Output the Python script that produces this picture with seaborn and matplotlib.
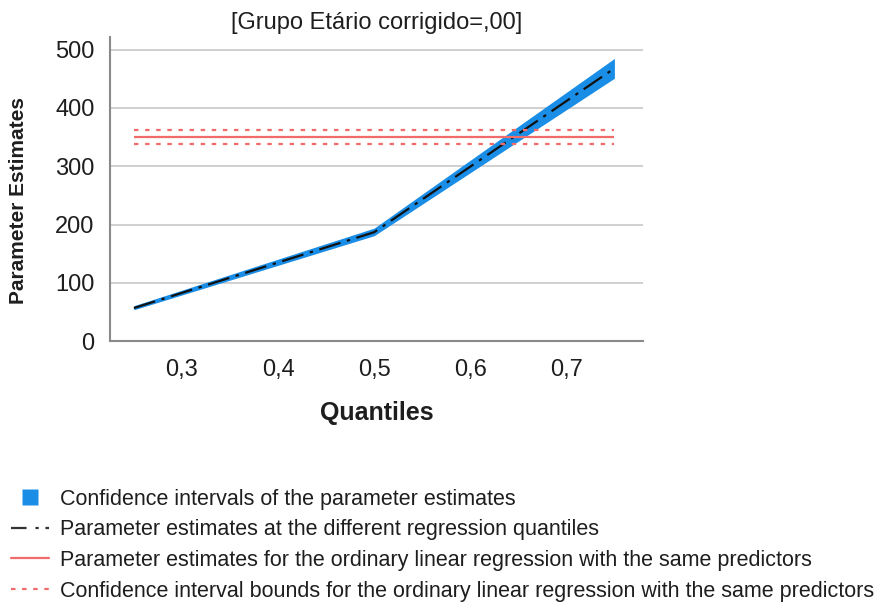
import matplotlib
matplotlib.use("Agg")
import matplotlib.pyplot as plt
from matplotlib.lines import Line2D
import numpy as np
import pandas as pd
import seaborn as sns

# Quantile regression estimates
quantiles = [0.25, 0.50, 0.75]
estimates = [57, 187, 468]
ci_lower = [54, 181, 451]
ci_upper = [61, 194, 485]

# Ordinary least squares estimate and its confidence bounds
ols_estimate = 350
ols_lower = 338
ols_upper = 362

x_ticks = [0.3, 0.4, 0.5, 0.6, 0.7]
x_tick_labels = ["0,3", "0,4", "0,5", "0,6", "0,7"]
y_ticks = [0, 100, 200, 300, 400, 500]

title = "[Grupo Etário corrigido=,00]"
legend_labels = [
    "Confidence intervals of the parameter estimates",
    "Parameter estimates at the different regression quantiles",
    "Parameter estimates for the ordinary linear regression with the same predictors",
    "Confidence interval bounds for the ordinary linear regression with the same predictors",
]

sns.set_style("white")
plt.rcParams["font.family"] = ["Liberation Sans", "DejaVu Sans"]

band_color = "#1a8ee6"
red = "#f26b6b"
grid_color = "#c8c8c8"
text_color = "#1e1e1e"

df = pd.DataFrame({"q": quantiles, "est": estimates, "lo": ci_lower, "hi": ci_upper})

fig = plt.figure(figsize=(8.86, 6.04), dpi=100)
ax = fig.add_axes([0.124, 0.435, 0.602, 0.504])

ax.fill_between(df["q"], df["lo"], df["hi"], color=band_color, linewidth=0, zorder=2)
sns.lineplot(data=df, x="q", y="est", ax=ax, color="#111111", linewidth=1.6,
             dashes=False, zorder=3)
ax.lines[-1].set_dashes((10, 3, 1.5, 3))

xmin, xmax = quantiles[0], quantiles[-1]
ax.hlines(ols_estimate, xmin, xmax, color=red, linewidth=1.6, zorder=4)
for v in (ols_lower, ols_upper):
    ax.hlines(v, xmin, xmax, color=red, linewidth=1.6, linestyles=(0, (2, 3)), zorder=4)

ax.set_xlim(0.225, 0.78)
ax.set_ylim(0, 522)
ax.set_xticks(x_ticks)
ax.set_xticklabels(x_tick_labels)
ax.set_yticks(y_ticks)
ax.tick_params(axis="both", length=0, labelsize=17, colors=text_color)
ax.tick_params(axis="y", pad=11)
ax.tick_params(axis="x", pad=13)
ax.yaxis.grid(True, color=grid_color, linewidth=1.2)
ax.xaxis.grid(False)
ax.set_axisbelow(True)
for s in ("top", "right"):
    ax.spines[s].set_visible(False)
for s in ("left", "bottom"):
    ax.spines[s].set_color("#8a8a8a")
    ax.spines[s].set_linewidth(1.5)

ax.set_title(title, fontsize=17, color=text_color, pad=6)
ax.set_xlabel("Quantiles", fontsize=18, fontweight="bold", color=text_color)
ax.xaxis.set_label_coords(0.5, -0.197)
ax.set_ylabel("Parameter Estimates", fontsize=15, fontweight="bold", color=text_color)
ax.yaxis.set_label_coords(-0.154, 0.464)

handles = [
    Line2D([0], [0], linestyle="none", marker="s", markersize=12,
           markerfacecolor=band_color, markeredgecolor="none"),
    Line2D([0], [0], color="#333333", linewidth=1.6, dashes=(7, 4, 1.5, 3)),
    Line2D([0], [0], color=red, linewidth=1.6),
    Line2D([0], [0], color=red, linewidth=1.6, linestyle=(0, (2, 3))),
]
fig.legend(handles, legend_labels, loc="upper left", bbox_to_anchor=(0.012, 0.191),
           frameon=False, fontsize=15.5, handlelength=1.8, handletextpad=0.5,
           labelspacing=0.45, borderaxespad=0, borderpad=0, labelcolor=text_color)

fig.savefig("out.png", dpi=100)
